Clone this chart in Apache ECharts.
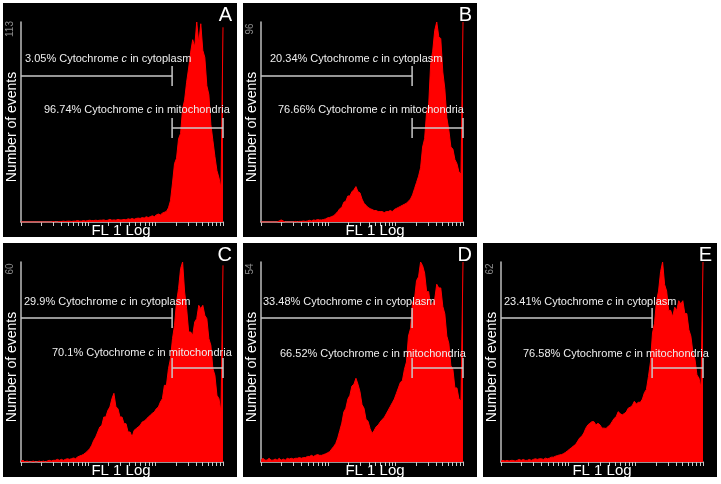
<!DOCTYPE html>
<html><head><meta charset="utf-8">
<script src="https://cdn.jsdelivr.net/npm/echarts@6/dist/echarts.min.js"></script>
<style>html,body{margin:0;padding:0;background:#fff}#c{width:721px;height:484px}</style>
</head><body><div id="c"></div>
<script>
// ---- data ----
const panelLetters = ['A', 'B', 'C', 'D', 'E'];
const yMaxLabels = [113, 96, 60, 54, 62];
const cytoPct = ['3.05%', '20.34%', '29.9%', '33.48%', '23.41%'];
const mitoPct = ['96.74%', '76.66%', '70.1%', '66.52%', '76.58%'];
const xAxisTitle = 'FL 1 Log';
const yAxisTitle = 'Number of events';
const channelMax = 100;         // channels across 3 log decades
const gateChannel = 74.8;       // marker boundary channel
const decades = 3;

const histA = [0,0,0,0,0,0,0,0,0,0,
 0,0,0,0,0,0,0.3,0,0,0.3,
 0.3,0.5,0.3,0.5,0.5,0.3,0.5,0.5,0.8,0.5,
 0.5,0.8,0.5,0.8,1,0.8,0.8,1,0.8,1,
 1,1.2,0.8,1,1.5,1,1.2,1,1.5,1.2,
 1.2,1.5,1.2,1.8,1.5,2,1.5,2,2.2,2,
 2.5,2.2,3,2.5,3,3.5,3,4,4.5,4,
 5,5.5,6,8,12,22,33,36,47,50,
 64,69,79,87,96,103,99,113,101,112,
 97,93,77,72,55,46,37,29,25,19,
 110];
const histB = [0,0,0,0,0,0,0,0,0,0.5,
 1,0.5,0,0,0,0,0,0.3,0,0.3,
 0.3,0.5,0.3,0.5,0.8,0.5,1,0.8,1.2,1,
 1,1.2,1.5,2,2.2,2.6,3,4,5,6.4,
 7,9.5,10,12.5,12.5,14.5,15.5,17,14.5,14,
 11,9,8,7,6.4,6,5.5,5.5,5,5,
 5,4.5,5,5,5.5,5,6,6.5,7,7.5,
 8,8.5,9,10,11,13,16,19,22,26,
 36,40,53,56,76,82,92,96,89,88,
 72,64,50,44,36,35,30,28,24,23,
 96];
const histC = [0.3,0.5,0,0.3,0,0,0.3,0,0,0.3,
 0,0.3,0,0.3,0.5,0.3,0.5,0.5,0.8,0.5,
 0.8,0.5,0.8,1,0.8,1,1.2,1,1.5,1.8,
 2,2.3,2.8,3.3,4,5,6.5,7.5,9,10.5,
 11,13.5,13.5,15.5,16.5,19,20.6,16.5,16,13.5,
 13.5,11.5,11.5,9,9,7.5,9.5,10,10.5,11,
 12,12.3,12.8,13.5,14,14.6,15,16,16.5,18,
 19,23,23,28,31,37,41,48,52,58,
 60,51,46,39,39,38,42,43,47,46,
 47,44,43,37,35,28,26,20,19,15,
 59];
const histD = [0.5,1,0.5,0.5,1,0.5,0.5,0.8,0.5,1,
 0.5,0.8,0.5,1,0.8,1,0.8,1,1,1.2,
 1,1.2,1.2,1.5,1.5,1.8,1.5,1.8,2,1.8,
 1.8,2,2.2,2.5,2.8,3.5,4.2,5,6.5,8.5,
 10.5,13.5,14.5,17,18,20.5,21,22.6,21,19,
 15.5,14.5,11.5,11,9,7.7,8.5,9.5,10,10.8,
 11.5,12,13,14,15,16,17,18.5,20,21.5,
 22,25,27,34,36,43,44,49,50,54,
 53,51,46,46,42,43,44,48,47,47,
 42,40,34,32,26,25,20,20,17,16.5,
 54];
const histE = [0.3,0.5,0.3,0.5,0.3,0.5,0.5,0.3,0.5,0.8,
 0.5,0.8,0.5,0.5,0.8,0.5,0.8,1,0.8,1,
 1,0.8,1.2,1,1.2,1.5,1.5,1.8,2,2.2,
 2.3,2.6,3,3.5,4,4.5,5,5.5,6.5,7.5,
 8,9,10.5,11.5,12,12.5,12.5,11.5,12,11.5,
 10.5,10.5,10.4,11,11.5,12.5,13.5,14,15.6,15,
 14.6,15,15.5,16.7,17,17.5,18.8,18,18.5,18.5,
 19.5,21.5,22.5,26.5,31,40,43,50,53,59,
 62,55,53,47,47,45,48,47,50,49,
 50,46,46,41,39,34,32,27,26,23,
 62];
const histograms = [histA, histB, histC, histD, histE];

// ---- layout (pixels) ----
const layout = {
  origins: [[3, 3], [243, 3], [3, 243], [243, 243], [483, 243]],
  panelW: 234, panelH: 234,
  gridLeft: 18, gridTop: 19, gridW: 202, gridH: 200,
  text1: [[22, 56], [27, 56], [21, 59], [20, 59], [21, 59]],
  text2: [[41, 107], [35, 107], [49, 110], [37, 111], [40, 111]],
  gate1Y: [73, 73, 75, 75, 75],
  gate2Y: [125, 125, 125, 125, 125],
  xTitleX: [118, 132, 118, 132, 119]
};

// log tick positions in channel units
const tickPos = [];
for (let d = 0; d < decades; d++) {
  for (let k = 1; k < 10; k++) tickPos.push(channelMax * (d + Math.log10(k)) / decades);
}
tickPos.push(channelMax);

const grids = [], xAxes = [], yAxes = [], series = [], graphics = [];
const FONT = 'Arial, "Liberation Sans", sans-serif';

function makeGate(p) {
  return function (params, api) {
    const cs = params.coordSys;
    const xa = api.coord([api.value(0), 0])[0];
    const xb = api.coord([api.value(1), 0])[0];
    const idx = api.value(2);
    const y = cs.y + (idx === 0 ? layout.gate1Y[p] : layout.gate2Y[p]) - layout.gridTop;
    const st = { stroke: '#c8c8c8', lineWidth: 1.5 };
    const ch = [
      { type: 'line', shape: { x1: xa, y1: y, x2: xb, y2: y }, style: st },
      { type: 'line', shape: { x1: xb, y1: y - 10, x2: xb, y2: y + 10 }, style: st }
    ];
    if (idx === 1) ch.push({ type: 'line', shape: { x1: xa, y1: y - 10, x2: xa, y2: y + 10 }, style: st });
    return { type: 'group', children: ch };
  };
}

for (let p = 0; p < 5; p++) {
  const [ox, oy] = layout.origins[p];
  grids.push({ left: ox + layout.gridLeft, top: oy + layout.gridTop, width: layout.gridW, height: layout.gridH });
  xAxes.push({
    type: 'value', gridIndex: p, min: 0, max: channelMax,
    axisLine: { show: true, lineStyle: { color: '#c8c8c8', width: 1.5 } },
    axisTick: { show: true, customValues: tickPos, length: 4, lineStyle: { color: '#c8c8c8', width: 1 } },
    axisLabel: { show: false }, splitLine: { show: false }
  });
  yAxes.push({
    type: 'value', gridIndex: p, min: 0, max: yMaxLabels[p],
    axisLine: { show: true, lineStyle: { color: '#bdbdbd', width: 1.5 } },
    axisTick: { show: false }, axisLabel: { show: false }, splitLine: { show: false }
  });
  series.push({
    type: 'line', xAxisIndex: p, yAxisIndex: p,
    data: histograms[p].map((v, i) => [i, v]),
    symbol: 'none', animation: false,
    lineStyle: { color: '#ff0000', width: 1 },
    areaStyle: { color: '#ff0000', opacity: 1 },
    z: 2
  });
  series.push({
    type: 'custom', xAxisIndex: p, yAxisIndex: p, animation: false, z: 5,
    renderItem: makeGate(p), clip: false,
    data: [[0, gateChannel, 0], [gateChannel, channelMax, 1]]
  });

  // panel background
  graphics.push({ type: 'rect', z: -10, shape: { x: ox, y: oy, width: layout.panelW, height: layout.panelH }, style: { fill: '#000' } });
  // panel letter
  graphics.push({ type: 'text', z: 100, x: ox + 229, y: oy + 12,
    style: { text: panelLetters[p], fill: '#fff', fontSize: 20, fontFamily: FONT,
      align: 'right', verticalAlign: 'middle', textAlign: 'right', textVerticalAlign: 'middle' } });
  // y max label
  graphics.push({ type: 'text', z: 100, x: ox + 7.5, y: oy + 26, rotation: Math.PI / 2,
    style: { text: String(yMaxLabels[p]), fill: '#8a8a8a', fontSize: 10, fontFamily: FONT,
      align: 'center', verticalAlign: 'middle', textAlign: 'center', textVerticalAlign: 'middle' } });
  // y title
  graphics.push({ type: 'text', z: 100, x: ox + 9, y: oy + 124, rotation: Math.PI / 2,
    style: { text: yAxisTitle, fill: '#fff', fontSize: 14, fontFamily: FONT,
      align: 'center', verticalAlign: 'middle', textAlign: 'center', textVerticalAlign: 'middle' } });
  // x title
  graphics.push({ type: 'text', z: 100, x: ox + layout.xTitleX[p], y: oy + 228,
    style: { text: xAxisTitle, fill: '#fff', fontSize: 15, fontFamily: FONT,
      align: 'center', verticalAlign: 'middle', textAlign: 'center', textVerticalAlign: 'middle' } });
  // gate labels
  const rich = { i: { fontStyle: 'italic', fontSize: 11, fontFamily: FONT, fill: '#eeeeee' } };
  graphics.push({ type: 'text', z: 100, x: ox + layout.text1[p][0], y: oy + layout.text1[p][1],
    style: { text: cytoPct[p] + ' Cytochrome {i|c} in cytoplasm', rich, fill: '#eeeeee', fontSize: 11, fontFamily: FONT,
      align: 'left', verticalAlign: 'middle', textAlign: 'left', textVerticalAlign: 'middle' } });
  graphics.push({ type: 'text', z: 100, x: ox + layout.text2[p][0], y: oy + layout.text2[p][1],
    style: { text: mitoPct[p] + ' Cytochrome {i|c} in mitochondria', rich, fill: '#eeeeee', fontSize: 11, fontFamily: FONT,
      align: 'left', verticalAlign: 'middle', textAlign: 'left', textVerticalAlign: 'middle' } });
}

const chart = echarts.init(document.getElementById('c'), null, { renderer: 'canvas' });
chart.setOption({
  backgroundColor: '#ffffff',
  animation: false,
  grid: grids, xAxis: xAxes, yAxis: yAxes, series: series,
  graphic: { elements: graphics }
});
</script>
</body></html>
